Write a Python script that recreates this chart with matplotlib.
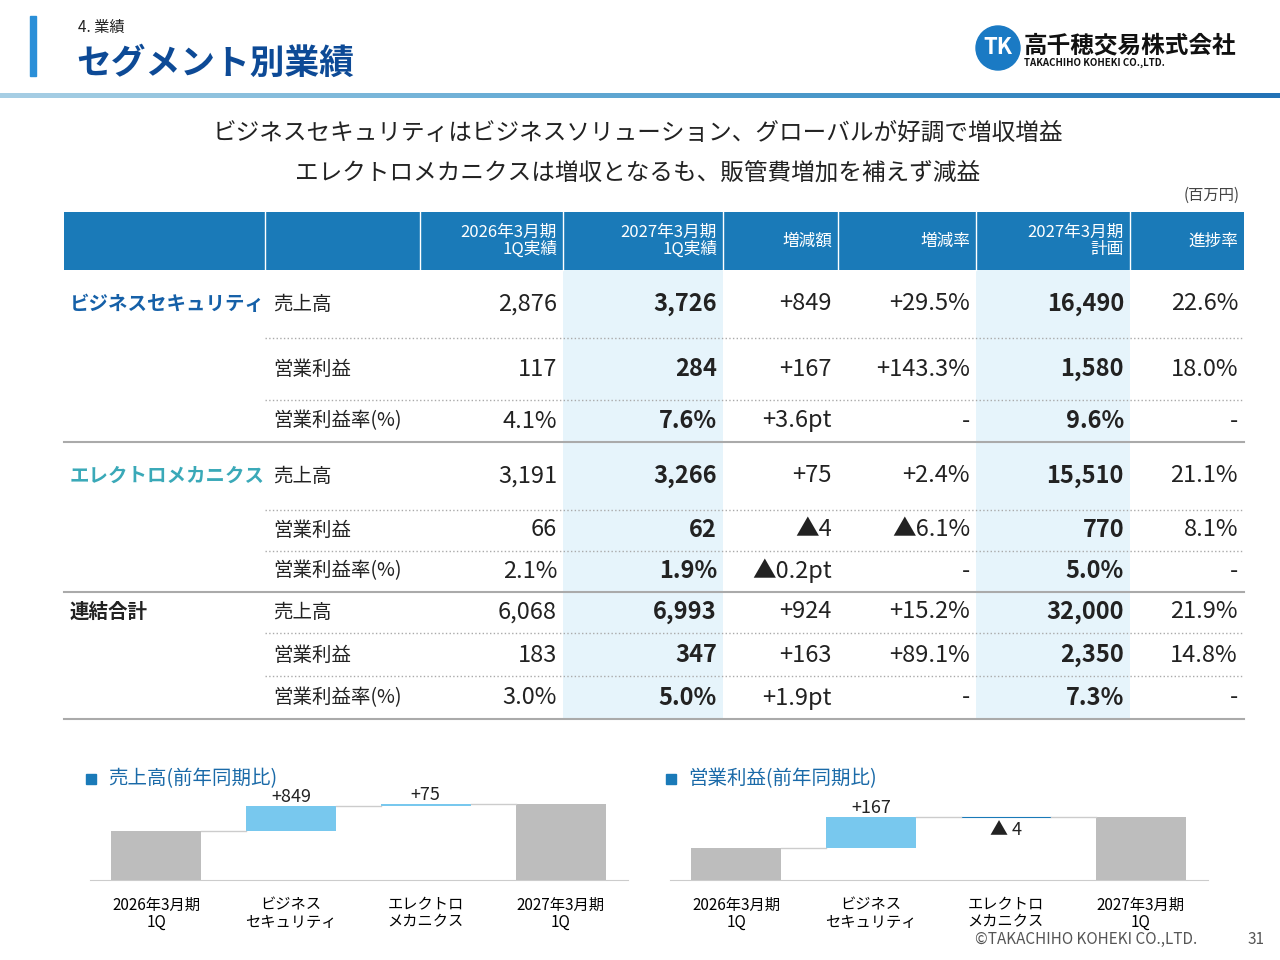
import matplotlib
matplotlib.use("Agg")
import matplotlib.pyplot as plt
from matplotlib.patches import Rectangle, Circle

plt.rcParams['font.family'] = ['Noto Sans CJK JP', 'DejaVu Sans']

# ---- data ----
headers = ["2026年3月期\n1Q実績", "2027年3月期\n1Q実績", "増減額", "増減率", "2027年3月期\n計画", "進捗率"]
segments = ["ビジネスセキュリティ", "エレクトロメカニクス", "連結合計"]
seg_colors = ["#1560a8", "#3aa9b8", "#222222"]
items = ["売上高", "営業利益", "営業利益率(%)"]
rows = [
    ["2,876", "3,726", "+849", "+29.5%", "16,490", "22.6%"],
    ["117", "284", "+167", "+143.3%", "1,580", "18.0%"],
    ["4.1%", "7.6%", "+3.6pt", "-", "9.6%", "-"],
    ["3,191", "3,266", "+75", "+2.4%", "15,510", "21.1%"],
    ["66", "62", "▲4", "▲6.1%", "770", "8.1%"],
    ["2.1%", "1.9%", "▲0.2pt", "-", "5.0%", "-"],
    ["6,068", "6,993", "+924", "+15.2%", "32,000", "21.9%"],
    ["183", "347", "+163", "+89.1%", "2,350", "14.8%"],
    ["3.0%", "5.0%", "+1.9pt", "-", "7.3%", "-"],
]
wf_cats = ["2026年3月期\n1Q", "ビジネス\nセキュリティ", "エレクトロ\nメカニクス", "2027年3月期\n1Q"]
sales_start, sales_steps = 2876, [849, 75]
op_start, op_steps = 117, [167, -4]
sales_labels = ["+849", "+75"]
op_labels = ["+167", "▲ 4"]

fig = plt.figure(figsize=(12.8, 9.6), dpi=100)
ax = fig.add_axes([0, 0, 1, 1])
ax.set_xlim(0, 1280)
ax.set_ylim(960, 0)
ax.axis("off")

# header
ax.add_patch(Rectangle((30, 16), 6, 60, color="#2a8fd8"))
ax.text(78, 27, "4. 業績", fontsize=11, va="center", color="#222")
ax.text(76, 63, "セグメント別業績", fontsize=25, fontweight="bold", va="center", color="#0d4a96")
for i in range(64):
    ax.add_patch(Rectangle((i * 20, 93), 20, 5, color=plt.cm.Blues(0.35 + 0.4 * i / 64), lw=0))
ax.add_patch(Circle((998, 48), 22, color="#1a7ac4"))
ax.text(998, 48, "TK", fontsize=16, fontweight="bold", color="white", ha="center", va="center")
ax.text(1024, 45, "高千穂交易株式会社", fontsize=17, fontweight="bold", va="center", color="#111")
ax.text(1024, 63, "TAKACHIHO KOHEKI CO.,LTD.", fontsize=7, fontweight="bold", va="center", color="#111")

ax.text(638, 133, "ビジネスセキュリティはビジネスソリューション、グローバルが好調で増収増益",
        fontsize=17, ha="center", va="center", color="#222")
ax.text(638, 173, "エレクトロメカニクスは増収となるも、販管費増加を補えず減益",
        fontsize=17, ha="center", va="center", color="#222")
ax.text(1240, 195, "(百万円)", fontsize=11, ha="right", va="center", color="#444")

# table
colx = [64, 265, 420, 563, 723, 838, 976, 1130, 1244]
ax.add_patch(Rectangle((64, 212), 1180, 58, color="#1a7ab8", lw=0))
for x in colx[1:-1]:
    ax.plot([x, x], [212, 270], color="white", lw=1)
for x0 in (colx[3], colx[6]):
    ax.add_patch(Rectangle((x0, 270), colx[colx.index(x0) + 1] - x0, 449, color="#e6f4fb", lw=0))
for j, h in enumerate(headers):
    ax.text(colx[j + 3] - 6, 241, h, fontsize=12, ha="right", va="center", color="white", linespacing=1.0)

row_y = [304, 369, 421, 476, 530, 571, 612, 655, 698]
seps = [(338, ":"), (400, ":"), (442, "-"), (510, ":"), (551, ":"), (592, "-"), (633, ":"), (676, ":"), (719, "-")]
for y, ls in seps:
    x0 = 64 if ls == "-" else 265
    ax.plot([x0, 1244], [y, y], color="#aaaaaa", lw=1.5 if ls == "-" else 1, ls=ls)
for i, (y, vals) in enumerate(zip(row_y, rows)):
    if i % 3 == 0:
        ax.text(70, y, segments[i // 3], fontsize=14, fontweight="bold", va="center", color=seg_colors[i // 3])
    ax.text(273, y, items[i % 3], fontsize=14, va="center", color="#222")
    for j, v in enumerate(vals):
        bold = j in (1, 4)
        ax.text(colx[j + 3] - 6, y, v, fontsize=17, ha="right", va="center", color="#222",
                fontweight="bold" if bold else "normal")

# waterfalls
def waterfall(rect, start, steps, labels, ylo, yhi, title, tx):
    ax.add_patch(Rectangle((tx, 774), 10, 10, color="#1a7ab8"))
    ax.text(tx + 22, 779, title, fontsize=14, va="center", color="#1a6aa8")
    wa = fig.add_axes(rect)
    wa.patch.set_visible(False)
    wa.set_xlim(-0.49, 3.5)
    wa.set_ylim(ylo, yhi)
    end = start + sum(steps)
    wa.bar(0, start - ylo, bottom=ylo, width=0.667, color="#bdbdbd")
    wa.bar(3, end - ylo, bottom=ylo, width=0.667, color="#bdbdbd")
    level = start
    for k, (s, lab) in enumerate(zip(steps, labels)):
        wa.bar(k + 1, abs(s), bottom=min(level, level + s), width=0.667,
               color="#78c8ee", edgecolor="#1a7ab8" if abs(s) < 20 else "none", lw=0.8)
        wa.plot([k + 0.333, k + 0.667], [level, level], color="#cccccc", lw=1)
        top = max(level, level + s)
        if s > 0:
            wa.text(k + 1, top, lab, fontsize=13, ha="center", va="bottom", color="#222")
        else:
            wa.text(k + 1, min(level, level + s) - (yhi - ylo) * 0.03, lab, fontsize=13,
                    ha="center", va="top", color="#222")
        level += s
    wa.plot([2.333, 2.667], [level, level], color="#cccccc", lw=1)
    for side in ("top", "right", "left"):
        wa.spines[side].set_visible(False)
    wa.spines["bottom"].set_color("#cccccc")
    wa.set_yticks([])
    wa.set_xticks(range(4))
    wa.set_xticklabels(wf_cats, fontsize=11, linespacing=1.0)
    wa.tick_params(axis="x", length=0, pad=12)

waterfall([90 / 1280, 80 / 960, 538 / 1280, 130 / 960], sales_start, sales_steps, sales_labels,
          1176, 3800 + 34 * 55, "売上高(前年同期比)", 86)
waterfall([670 / 1280, 80 / 960, 538 / 1280, 130 / 960], op_start, op_steps, op_labels,
          -56, 280 + 5.4 * 67, "営業利益(前年同期比)", 666)

ax.text(1197, 939, "©TAKACHIHO KOHEKI CO.,LTD.", fontsize=11, ha="right", va="center", color="#555")
ax.text(1265, 939, "31", fontsize=11, ha="right", va="center", color="#555")

fig.savefig("out.png", dpi=100)
